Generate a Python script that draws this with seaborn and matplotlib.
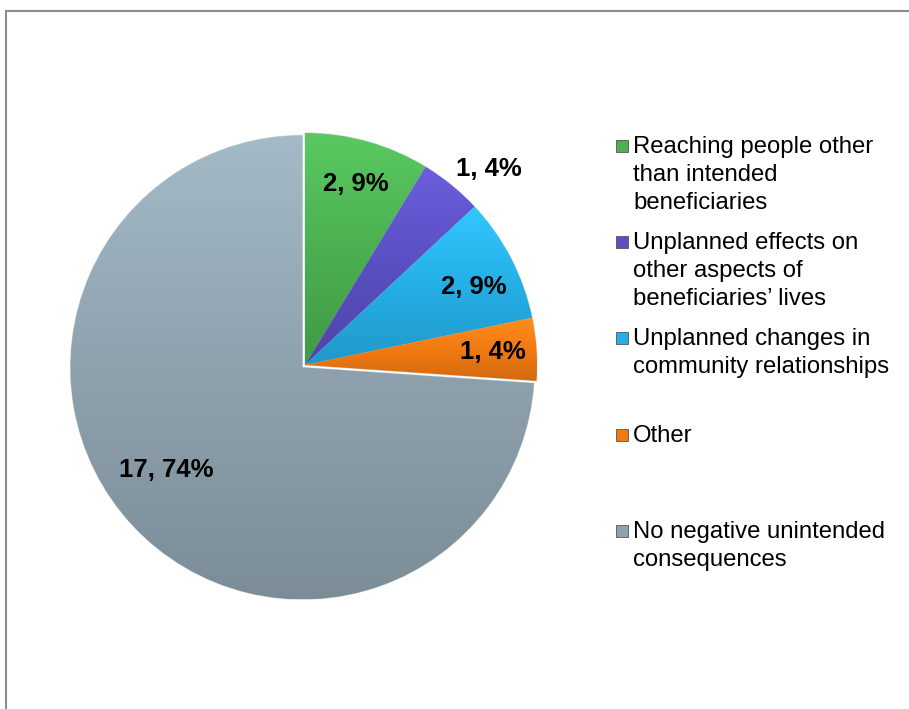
import numpy as np
import seaborn as sns
import matplotlib
matplotlib.use("Agg")
import matplotlib.pyplot as plt
from matplotlib.colors import LinearSegmentedColormap, to_rgb
from matplotlib.patches import Rectangle

categories = [
    "Reaching people other\nthan intended\nbeneficiaries",
    "Unplanned effects on\nother aspects of\nbeneficiaries\u2019 lives",
    "Unplanned changes in\ncommunity relationships",
    "Other",
    "No negative unintended\nconsequences",
]
counts = [2, 1, 2, 1, 17]
percents = [9, 4, 9, 4, 74]
colors = ["#4bb051", "#5a4fc2", "#25afe6", "#f27a12", "#8ea2ae"]

# label placement: fraction of radius and angle nudge (degrees)
label_r = [0.81, 1.16, 0.80, 0.81, 0.735]
label_dang = [0, -4, -2.5, 0, -6]

sns.set_theme(style="white")
plt.rcParams["font.family"] = ["Liberation Sans", "DejaVu Sans"]

fig = plt.figure(figsize=(9.09, 7.09), dpi=100)
ax = fig.add_axes([15 / 909, 54 / 709, 580 / 909, 580 / 709])

wedges, _ = ax.pie(counts, colors=colors, startangle=90, counterclock=False,
                   explode=[0, 0, 0, 0, 0.015],
                   wedgeprops=dict(edgecolor="#d8dee2", linewidth=0.8))

# soft vertical gradient on every slice, like the office bevel look
for w, c in zip(wedges, colors):
    rgb = np.array(to_rgb(c))
    light = np.clip(rgb * 1.1 + 0.03, 0, 1)
    dark = rgb * 0.87
    cmap = LinearSegmentedColormap.from_list("g", [dark, rgb, light])
    bb = w.get_path().get_extents()
    grad = np.linspace(0, 1, 256).reshape(-1, 1)
    im = ax.imshow(grad, cmap=cmap, origin="lower", aspect="auto",
                   extent=(bb.x0, bb.x1, bb.y0, bb.y1), zorder=w.get_zorder() + 0.1)
    im.set_clip_path(w)

for w, n, p, r, da in zip(wedges, counts, percents, label_r, label_dang):
    ang = np.deg2rad((w.theta1 + w.theta2) / 2 + da)
    cx, cy = w.center
    ax.text(cx + r * np.cos(ang), cy + r * np.sin(ang), f"{n}, {p}%",
            ha="center", va="center", fontsize=18.5, fontweight="bold",
            color="black", zorder=10)

ax.set_xlim(-1.25, 1.25)
ax.set_ylim(-1.25, 1.25)
ax.set_aspect("equal")
ax.axis("off")

# legend, drawn entry by entry to keep the even spacing of the original
top = 146
step = 96.2
for i, (lab, c) in enumerate(zip(categories, colors)):
    y = top + i * step
    fig.patches.append(Rectangle((616 / 909, 1 - (y + 6) / 709), 12 / 909, 12 / 709,
                                 transform=fig.transFigure, facecolor=c,
                                 edgecolor="#555555", linewidth=0.6))
    fig.text(633 / 909, 1 - (y - 10) / 709, lab, ha="left", va="top",
             fontsize=17.2, color="black", linespacing=1.34)

# chart frame
fig.patches.append(Rectangle((6 / 909, -0.05), 1.1, 1 - 11 / 709 + 0.05,
                             transform=fig.transFigure, fill=False,
                             edgecolor="#8c8c8c", linewidth=1.5))

fig.savefig("out.png", dpi=100)
